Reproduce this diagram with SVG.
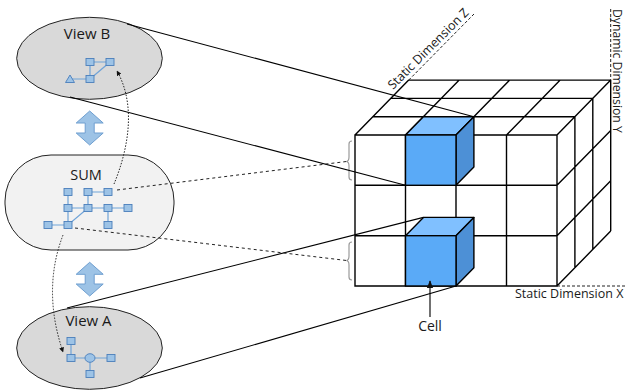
<svg xmlns="http://www.w3.org/2000/svg" width="625" height="392" viewBox="0 0 625 392">
  <defs>
    <style>
      .lbl { font-family: "Open Sans", "Liberation Sans", sans-serif; fill: #1a1a1a; }
      .title { font-size: 15px; text-anchor: middle; }
      .dim { font-size: 12.5px; }
      .view { fill: #d9d9d9; stroke: #222; stroke-width: 1; }
      .sum { fill: #f2f2f2; stroke: #222; stroke-width: 1; }
      .gn { fill: #9dc3e6; stroke: #4a7ebb; stroke-width: 0.9; }
      .ge { stroke: #6fa3d8; stroke-width: 1.2; fill: none; }
      .dbl { fill: #9dc3e6; stroke: #6f9fd0; stroke-width: 1; }
      .grid { stroke: #000; stroke-width: 1.4; fill: none; }
      .cellF { fill: #5aaaf7; stroke: #000; stroke-width: 1.4; }
      .cellT { fill: #80c0ff; stroke: #000; stroke-width: 1.4; stroke-linejoin: round; }
      .cellS { fill: #4d90d6; stroke: #000; stroke-width: 1.4; stroke-linejoin: round; }
      .proj { stroke: #000; stroke-width: 1.1; fill: none; }
      .projd { stroke: #222; stroke-width: 1; fill: none; stroke-dasharray: 3 3; }
      .dots { stroke: #222; stroke-width: 1; fill: none; stroke-dasharray: 1.5 1.5; }
      .axis { stroke: #222; stroke-width: 1; fill: none; stroke-dasharray: 3 2; }
      .brace { stroke: #9a9a9a; stroke-width: 1.2; fill: none; }
    </style>
    <marker id="tip" viewBox="0 0 10 10" refX="9" refY="5" markerWidth="5" markerHeight="5" orient="auto-start-reverse" markerUnits="userSpaceOnUse">
      <path d="M0,0 L10,5 L0,10 Z" fill="#111"/>
    </marker>
    <marker id="cellTip" viewBox="0 0 10 10" refX="9" refY="5" markerWidth="8" markerHeight="8" orient="auto" markerUnits="userSpaceOnUse">
      <path d="M0,1 L10,5 L0,9 Z" fill="#111"/>
    </marker>
  </defs>

  <!-- view B -->
  <g id="viewB">
    <ellipse class="view" cx="89.5" cy="58.3" rx="72.8" ry="41"/>
    <text class="lbl title" x="87" y="39">View B</text>
    <path class="ge" d="M70,79 H90 V62 H110 L90,79"/>
    <polygon class="gn" points="70,75 74.5,82.5 65.5,82.5"/>
    <rect class="gn" x="86" y="58.5" width="8" height="7"/>
    <rect class="gn" x="106" y="58.5" width="8" height="7"/>
    <rect class="gn" x="86" y="75.5" width="8" height="7"/>
  </g>

  <!-- summary graph -->
  <g id="sum">
    <rect class="sum" x="5" y="155" width="169" height="95" rx="46" ry="46"/>
    <text class="lbl" x="86" y="180" font-size="14.5" text-anchor="middle">SUM</text>
    <path class="ge" d="M88,192 H108 M68,192 V225 M88,192 V208 M68,208 H128 M48,225 H68 L88,208 M108,208 V225"/>
    <rect class="gn" x="64" y="188.5" width="8" height="7"/>
    <rect class="gn" x="84" y="188.5" width="8" height="7"/>
    <rect class="gn" x="104" y="188.5" width="8" height="7"/>
    <rect class="gn" x="64" y="204.5" width="8" height="7"/>
    <rect class="gn" x="84" y="204.5" width="8" height="7"/>
    <rect class="gn" x="104" y="204.5" width="8" height="7"/>
    <rect class="gn" x="124" y="204.5" width="8" height="7"/>
    <rect class="gn" x="44" y="221.5" width="8" height="7"/>
    <rect class="gn" x="64" y="221.5" width="8" height="7"/>
    <rect class="gn" x="104" y="221.5" width="8" height="7"/>
  </g>

  <!-- view A -->
  <g id="viewA">
    <ellipse class="view" cx="89.5" cy="348" rx="72.8" ry="41.3"/>
    <text class="lbl title" x="88.5" y="326">View A</text>
    <path class="ge" d="M71,341 V358 H111 M90,358 V374"/>
    <rect class="gn" x="67" y="337.5" width="8" height="7"/>
    <rect class="gn" x="67" y="354.5" width="8" height="7"/>
    <ellipse class="gn" cx="90" cy="358" rx="5" ry="4.3"/>
    <rect class="gn" x="107" y="354.5" width="8" height="7"/>
    <rect class="gn" x="86" y="370.5" width="8" height="7"/>
  </g>

  <!-- double arrows between the views and the sum -->
  <g id="linkBsum">
    <polygon class="dbl" points="89.7,111 103.2,123 94.2,123 94.2,133 103.2,133 89.7,145 76.2,133 85.2,133 85.2,123 76.2,123"/>
  </g>
  <g id="linkSumA">
    <polygon class="dbl" points="89.7,262.3 103.2,274.3 94.2,274.3 94.2,284 103.2,284 89.7,296 76.2,284 85.2,284 85.2,274.3 76.2,274.3"/>
  </g>

  <!-- braces marking the projected rows -->
  <g id="braces">
    <path class="brace" d="M352,141 q-3,0 -3,3 v13 q0,4 -2.5,4.5 q2.5,0.5 2.5,4.5 v11 q0,3 3,3"/>
    <path class="brace" d="M352,242 q-3,0 -3,3 v11 q0,4 -2.5,4.5 q2.5,0.5 2.5,4.5 v12 q0,3 3,3"/>
  </g>

  <!-- data cube -->
  <g id="cube">
    <rect x="355" y="135" width="202" height="151" fill="#fff"/>
    <polygon points="355,135 557,135 610.7,80.1 408.7,80.1" fill="#fff"/>
    <polygon points="557,135 610.7,80.1 610.7,231.1 557,286" fill="#fff"/>
    <path class="grid" d="M355,135 H557 V286 H355 Z M355,185.3 H557 M355,235.7 H557 M405.5,135 V286 M456,135 V286 M506.5,135 V286
      M372.9,116.7 H574.9 M390.8,98.4 H592.8 M408.7,80.1 H610.7
      M355,135 L408.7,80.1 M405.5,135 L459.2,80.1 M456,135 L509.7,80.1 M506.5,135 L560.2,80.1 M557,135 L610.7,80.1
      M574.9,116.7 V267.7 M592.8,98.4 V249.4 M610.7,80.1 V231.1
      M557,185.3 L610.7,130.4 M557,235.7 L610.7,180.8 M557,286 L610.7,231.1"/>
  </g>

  <g id="cellTop">
    <polygon class="cellT" points="405.5,135 456,135 473.9,116.7 423.4,116.7"/>
    <polygon class="cellS" points="456,135 473.9,116.7 473.9,167 456,185.3"/>
    <rect class="cellF" x="405.5" y="135" width="50.5" height="50.3"/>
  </g>

  <g id="cellBottom">
    <polygon class="cellT" points="405.5,235.7 456,235.7 473.9,217.4 423.4,217.4"/>
    <polygon class="cellS" points="456,235.7 473.9,217.4 473.9,267.7 456,286"/>
    <rect class="cellF" x="405.5" y="235.7" width="50.5" height="50.3"/>
  </g>

  <!-- axis labels -->
  <g id="axisZ">
    <line class="axis" x1="408.7" y1="80.1" x2="474" y2="14"/>
    <text class="lbl dim" transform="translate(393,90) rotate(-45)">Static Dimension Z</text>
  </g>
  <g id="axisY">
    <line class="axis" x1="610.7" y1="9" x2="610.7" y2="80.1"/>
    <text class="lbl" font-size="12.2" transform="translate(613,9) rotate(90)">Dynamic Dimension Y</text>
  </g>
  <g id="axisX">
    <line class="axis" x1="557" y1="286" x2="625" y2="286"/>
    <text class="lbl dim" x="515" y="297.5">Static Dimension X</text>
  </g>

  <g id="cellLabel">
    <line x1="430" y1="317" x2="430" y2="281" stroke="#111" stroke-width="1.2" marker-end="url(#cellTip)"/>
    <text class="lbl" x="430" y="331" font-size="14" text-anchor="middle">Cell</text>
  </g>

  <!-- projection lines from the views onto the cube -->
  <g id="connectors">
    <line class="proj" x1="127" y1="24" x2="473.9" y2="116.7"/>
    <line class="proj" x1="70" y1="97" x2="405.5" y2="185.3"/>
    <line class="proj" x1="67" y1="308" x2="423.4" y2="217.4"/>
    <line class="proj" x1="140" y1="378" x2="456" y2="286"/>
    <line class="projd" x1="117" y1="190" x2="346.5" y2="161.5"/>
    <line class="projd" x1="75" y1="228" x2="346.5" y2="260.5"/>
    <path class="dots" d="M114,184 C126,155 138,108 117,71" marker-end="url(#tip)"/>
    <path class="dots" d="M63,235 Q42,290 63,352" marker-end="url(#tip)"/>
  </g>
</svg>
